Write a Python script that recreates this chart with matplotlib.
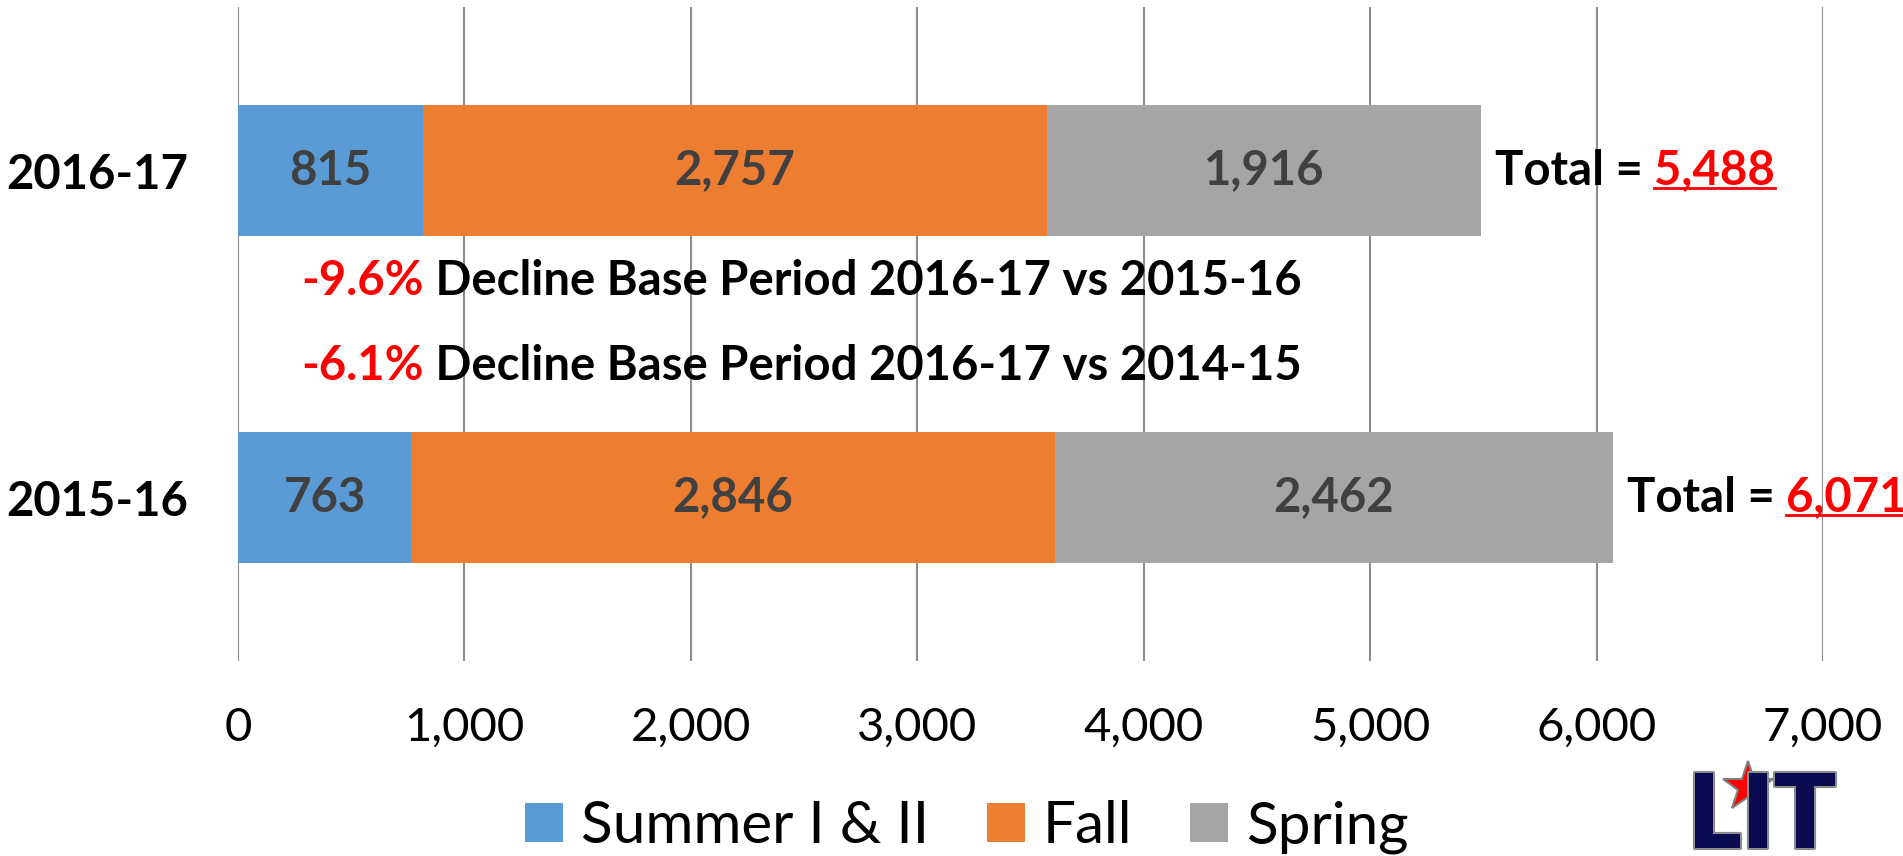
import matplotlib
matplotlib.use("Agg")
import matplotlib.pyplot as plt
import matplotlib.patheffects as pe
from matplotlib.lines import Line2D

plt.rcParams["font.family"] = ["Lato", "DejaVu Sans"]

years = ["2015-16", "2016-17"]
summer = [763, 815]
fall = [2846, 2757]
spring = [2462, 1916]
series_names = ["Summer I & II", "Fall", "Spring"]
colors = ["#5B9BD5", "#ED7D31", "#A5A5A5"]
decline_pct = ["-9.6%", "-6.1%"]
decline_text = ["Decline Base Period 2016-17 vs 2015-16",
                "Decline Base Period 2016-17 vs 2014-15"]
xticks = [0, 1000, 2000, 3000, 4000, 5000, 6000, 7000]

totals = [s + f + p for s, f, p in zip(summer, fall, spring)]

fig = plt.figure(figsize=(19.03, 8.56), dpi=100)
ax = fig.add_axes([0.1251, 0.2278, 0.8329, 0.7640])

ypos = list(range(len(years)))
left = [0] * len(years)
for name, vals, col in zip(series_names, [summer, fall, spring], colors):
    bars = ax.barh(ypos, vals, height=0.4, left=left, color=col, label=name)
    ax.bar_label(bars, labels=[f"{v:,}" for v in vals], label_type="center",
                 fontsize=34, fontweight="bold", color="#404040")
    left = [a + b for a, b in zip(left, vals)]

ax.set_ylim(-0.5, 1.5)
ax.set_xlim(0, 7000)
ax.set_xticks(xticks)
ax.set_xticklabels([f"{v:,}" for v in xticks], fontsize=34)
ax.set_yticks(ypos)
ax.set_yticklabels(years, fontsize=34, fontweight="bold")
ax.tick_params(axis="x", length=0, pad=33)
ax.tick_params(axis="y", length=0, pad=36)
ax.grid(axis="x", color="#8C8C8C", linewidth=1.5)
ax.set_axisbelow(True)
for s in ax.spines.values():
    s.set_visible(False)

# totals at bar ends, number in red + underline
num_texts = []
for y, tot in zip(ypos, totals):
    t1 = ax.annotate("Total = ", xy=(tot, y), xytext=(14, 0), textcoords="offset pixels",
                     ha="left", va="center", fontsize=34, fontweight="bold", color="black")
    t2 = ax.annotate(f"{tot:,}", xy=(1, 0), xycoords=t1, ha="left", va="bottom",
                     fontsize=34, fontweight="bold", color="red", annotation_clip=False)
    num_texts.append(t2)

# decline notes between the bars
for yv, pct, txt in zip([0.663, 0.402], decline_pct, decline_text):
    r = ax.text(278, yv, pct, ha="left", va="center", fontsize=34,
                fontweight="bold", color="red")
    ax.annotate(" " + txt, xy=(1, 0), xycoords=r, ha="left", va="bottom",
                fontsize=34, fontweight="bold", color="black")

fig.legend(loc="center", bbox_to_anchor=(0.508, 0.034), ncol=3, frameon=False,
           fontsize=42, handlelength=0.65, handleheight=0.65, handletextpad=0.3,
           columnspacing=1.0)

# logo
logo = fig.text(0.926, -0.01, "LIT", ha="center", va="bottom", fontsize=74,
                fontweight="heavy", color="#0A0A50",
                path_effects=[pe.withStroke(linewidth=3, foreground="#8C8C8C")])
fig.add_artist(Line2D([1748 / 1903], [1 - 787 / 856], marker="*", markersize=38,
                      color="red", markeredgecolor="#7F7F7F", markeredgewidth=1.5,
                      transform=fig.transFigure))

fig.canvas.draw()
inv = fig.transFigure.inverted()
for t in num_texts:
    bb = t.get_window_extent()
    ybase = bb.y0 + 5
    (x0, y0), (x1, _) = inv.transform([(bb.x0, ybase), (bb.x1, ybase)])
    fig.add_artist(Line2D([x0, x1], [y0, y0], color="red", linewidth=2,
                          transform=fig.transFigure))

fig.savefig("out.png", dpi=100)
